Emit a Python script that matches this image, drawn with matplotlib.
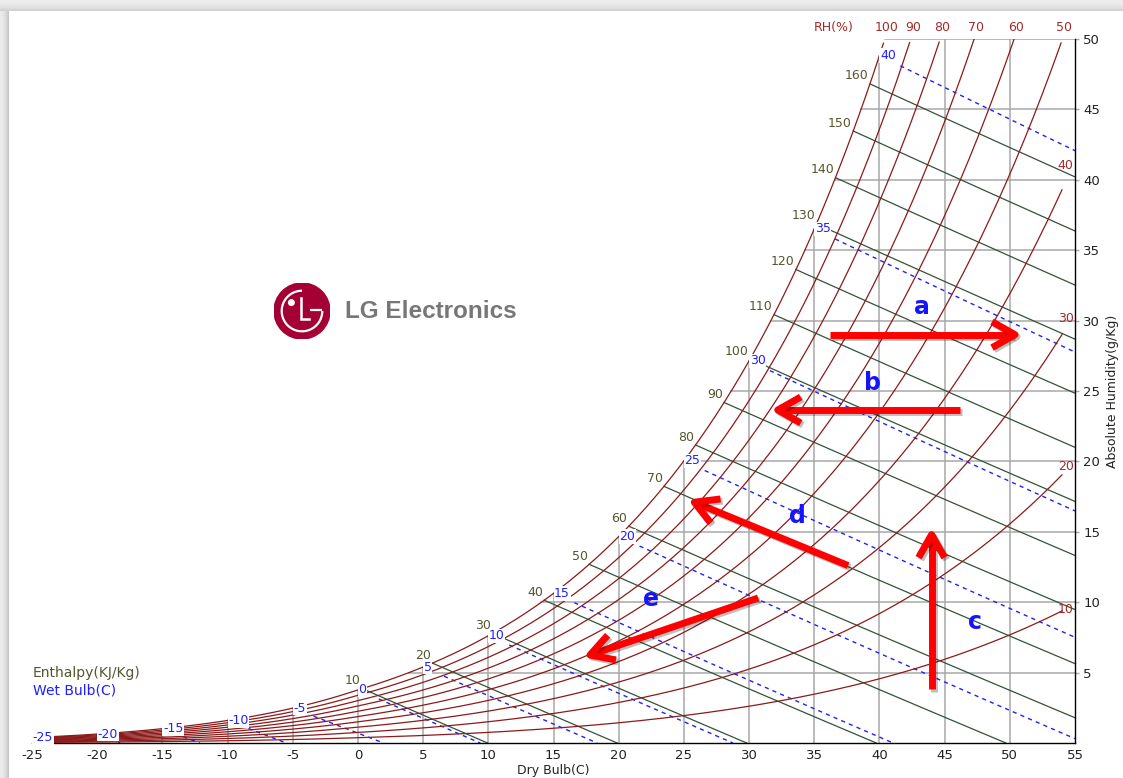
import numpy as np
import matplotlib
matplotlib.use("Agg")
import matplotlib.pyplot as plt
from matplotlib.patches import Circle, Arc
import matplotlib.patheffects as pe

P_ATM = 101.325  # kPa

# ---- chart data -------------------------------------------------------
dry_bulb_ticks = [-25, -20, -15, -10, -5, 0, 5, 10, 15, 20, 25, 30, 35, 40, 45, 50, 55]
humidity_ticks = [5, 10, 15, 20, 25, 30, 35, 40, 45, 50]
rh_levels = [10, 20, 30, 40, 50, 60, 70, 80, 90, 100]
rh_top_labels = [100, 90, 80, 70, 60, 50]
rh_side_labels = [40, 30, 20, 10]
enthalpy_levels = [10, 20, 30, 40, 50, 60, 70, 80, 90, 100, 110, 120, 130, 140, 150, 160]
wet_bulb_levels = [-25, -20, -15, -10, -5, 0, 5, 10, 15, 20, 25, 30, 35, 40]

# air-handling processes (dry bulb C, humidity g/kg)
process_names = ["a", "b", "c", "d", "e"]
process_start_t = [36.2, 46.2, 44.0, 37.6, 30.7]
process_start_w = [29.0, 23.65, 3.8, 12.6, 10.3]
process_end_t = [50.4, 32.2, 44.0, 25.8, 17.8]
process_end_w = [29.0, 23.65, 14.8, 17.1, 6.25]
process_label_t = [43.25, 39.5, 47.3, 33.7, 22.5]
process_label_w = [31.0, 25.6, 8.6, 16.1, 10.2]

T_MIN, T_MAX = -25, 55
W_MAX = 50

RH_COLOR = "#8b1a1a"
RH_TEXT = "#a52a2a"
H_COLOR = "#34523a"
H_TEXT = "#55552f"
WB_COLOR = "#1f1fff"
GRID_COLOR = "#a8a8a8"


# ---- psychrometric relations -----------------------------------------
def p_ws(t):
    t = np.asarray(t, dtype=float)
    water = 0.61094 * np.exp(17.625 * t / (t + 243.04))
    ice = 0.61115 * np.exp(22.452 * t / (272.55 + t))
    return np.where(t >= 0, water, ice)


def humidity(t, rh):
    pw = rh / 100.0 * p_ws(t)
    return 622.0 * pw / (P_ATM - pw)


def bisect(f, lo, hi, n=80):
    flo = f(lo)
    for _ in range(n):
        mid = 0.5 * (lo + hi)
        fm = f(mid)
        if (fm > 0) == (flo > 0):
            lo, flo = mid, fm
        else:
            hi = mid
    return 0.5 * (lo + hi)


def t_sat_for_w(w):
    return bisect(lambda t: float(humidity(t, 100)) - w, -40, 80)


def h_sat(t):
    ws = float(humidity(t, 100)) / 1000.0
    return 1.006 * t + ws * (2501 + 1.86 * t)


def enthalpy_w(t, h):
    return 1000.0 * (h - 1.006 * t) / (2501 + 1.86 * t)


def wet_bulb_w(t, twb):
    ws = float(humidity(twb, 100)) / 1000.0
    if twb >= 0:
        num = (2501 - 2.326 * twb) * ws - 1.006 * (t - twb)
        den = 2501 + 1.86 * t - 4.186 * twb
    else:
        num = (2830 - 0.24 * twb) * ws - 1.006 * (t - twb)
        den = 2830 + 1.86 * t - 2.1 * twb
    return 1000.0 * num / den


# ---- figure -----------------------------------------------------------
W_PX, H_PX = 1123, 778
fig = plt.figure(figsize=(W_PX / 100, H_PX / 100), dpi=100)

# window frame: soft grey edge along the top and the left
bg = np.ones((H_PX, W_PX, 3))
for r in range(11):
    v = 0.93 - 0.11 * (r / 10.0) ** 2
    bg[r, :, :] = v
for c in range(9):
    v = 0.92 - 0.14 * (c / 8.0) ** 2
    bg[11:, c, :] = np.minimum(bg[11:, c, :], v)
bg_ax = fig.add_axes([0, 0, 1, 1], zorder=-10)
bg_ax.imshow(bg, aspect="auto", extent=[0, 1, 0, 1])
bg_ax.axis("off")

ax = fig.add_axes([32 / W_PX, 35 / H_PX, 1043 / W_PX, 704 / H_PX])
ax.set_xlim(T_MIN, T_MAX)
ax.set_ylim(0, W_MAX)
ax.patch.set_alpha(0)
for s in ("left", "top"):
    ax.spines[s].set_visible(False)
ax.spines["right"].set_color("black")
ax.spines["bottom"].set_color("black")
ax.spines["right"].set_linewidth(1.0)
ax.spines["bottom"].set_linewidth(1.0)

ax.yaxis.tick_right()
ax.yaxis.set_label_position("right")
ax.set_xticks(dry_bulb_ticks)
ax.set_xticklabels([str(v) for v in dry_bulb_ticks])
ax.set_yticks(humidity_ticks)
ax.set_yticklabels([str(v) for v in humidity_ticks])
ax.tick_params(axis="x", length=0, pad=4, labelsize=9.5, colors="#222222")
ax.tick_params(axis="y", length=3, width=1, color=GRID_COLOR, pad=3, labelsize=9.5,
               labelcolor="#222222")
ax.set_xlabel("Dry Bulb(C)", fontsize=9, labelpad=2, color="#222222")
ax.set_ylabel("Absolute Humidity(g/Kg)", fontsize=9, labelpad=4, color="#222222")

# grid clipped to the region under the saturation curve
for t in dry_bulb_ticks[1:-1]:
    top = min(W_MAX, float(humidity(t, 100)))
    ax.plot([t, t], [0, top], color=GRID_COLOR, lw=1.1, zorder=1)
for w in humidity_ticks:
    ax.plot([t_sat_for_w(w), T_MAX], [w, w], color=GRID_COLOR, lw=1.1, zorder=1)

# relative humidity curves
for rh in rh_levels:
    t_end = T_MAX if rh >= 50 else 54.0
    t = np.linspace(T_MIN, t_end, 600)
    w = humidity(t, rh)
    keep = w <= W_MAX
    ax.plot(t[keep], w[keep], color=RH_COLOR, lw=0.9, zorder=3)

for rh in rh_top_labels:
    t_top = bisect(lambda t: float(humidity(t, rh)) - W_MAX, 0, 80)
    ax.text(t_top + 0.15, 50.85, str(rh), color=RH_TEXT, fontsize=9,
            ha="center", va="center", clip_on=False)
ax.text(36.5, 50.85, "RH(%)", color=RH_TEXT, fontsize=9, ha="center", va="center",
        clip_on=False)
for rh in rh_side_labels:
    ax.text(54.9, float(humidity(55, rh)) - 0.35, str(rh), color=RH_TEXT, fontsize=9,
            ha="right", va="center", zorder=6)

# enthalpy lines
for h in enthalpy_levels:
    t0 = bisect(lambda t: h_sat(t) - h, -30, 60)
    t1 = min(T_MAX, bisect(lambda t: enthalpy_w(t, h), -30, 200))
    t = np.linspace(t0, t1, 200)
    ax.plot(t, enthalpy_w(t, h), color=H_COLOR, lw=0.9, zorder=2)
    ax.text(t0 - 0.1, enthalpy_w(t0, h) + 0.1, str(h), color=H_TEXT, fontsize=9,
            ha="right", va="bottom", zorder=6)

# wet bulb lines
for twb in wet_bulb_levels:
    t_zero = bisect(lambda t: wet_bulb_w(t, twb), twb, twb + 200)
    t0 = twb + 1.6
    t1 = min(T_MAX, t_zero)
    if t1 > t0:
        t = np.linspace(t0, t1, 200)
        ax.plot(t, [wet_bulb_w(x, twb) for x in t], color=WB_COLOR, lw=1.0,
                ls=(0, (3, 3)), zorder=2)
    ax.text(twb + 0.05, float(humidity(twb, 100)), str(twb), color=WB_COLOR,
            fontsize=9, ha="left", va="center", zorder=7,
            bbox=dict(boxstyle="square,pad=0.05", fc="white", ec="none"))

# legend notes
fig.text(33 / W_PX, 1 - 673 / H_PX, "Enthalpy(KJ/Kg)", color=H_TEXT, fontsize=10,
         ha="left", va="center")
fig.text(33 / W_PX, 1 - 690 / H_PX, "Wet Bulb(C)", color=WB_COLOR, fontsize=10,
         ha="left", va="center")


# process arrows: thick shaft with an open chevron head
def draw_process(start, end, head_len=23, head_half=13, lw=5.0):
    trans = ax.transData
    p0 = trans.transform(start)
    p1 = trans.transform(end)
    d = (p1 - p0) / np.hypot(*(p1 - p0))
    n = np.array([-d[1], d[0]])
    base = p1 - head_len * d
    head_px = np.array([base + head_half * n, p1, base - head_half * n])
    head = trans.inverted().transform(head_px)
    tip_back = trans.inverted().transform(p1 - 2 * d)
    fx = [pe.SimpleLineShadow(offset=(1.5, -1.5), alpha=0.25, shadow_color="black"),
          pe.Normal()]
    ax.plot([start[0], tip_back[0]], [start[1], tip_back[1]], color="#ff0000", lw=lw,
            solid_capstyle="butt", zorder=8, path_effects=fx)
    ax.plot(head[:, 0], head[:, 1], color="#ff0000", lw=lw, solid_capstyle="butt",
            solid_joinstyle="round", zorder=8, path_effects=fx)


for name, ts, ws, te, we, tl, wl in zip(process_names, process_start_t, process_start_w,
                                        process_end_t, process_end_w,
                                        process_label_t, process_label_w):
    draw_process((ts, ws), (te, we))
    ax.text(tl, wl, name, color="#1414ff", fontsize=17, fontweight="bold",
            ha="center", va="center", zorder=9)

# company logo
logo = fig.add_axes([274 / W_PX, 1 - 339 / H_PX, 56 / W_PX, 56 / H_PX])
logo.set_xlim(-1, 1)
logo.set_ylim(-1, 1)
logo.set_aspect("equal")
logo.axis("off")
logo.add_patch(Circle((0, 0), 1.0, color="#a50034"))
logo.add_patch(Arc((0, 0), 1.45, 1.45, theta1=90, theta2=360, color="white", lw=1.6))
logo.plot([0.3, 0.73], [0.02, 0.02], color="white", lw=1.6, solid_capstyle="butt")
logo.plot([-0.05, -0.05, 0.25], [0.45, -0.3, -0.3], color="white", lw=1.8,
          solid_joinstyle="miter")
logo.add_patch(Circle((-0.38, 0.3), 0.1, color="white"))
fig.text(345 / W_PX, 1 - 311 / H_PX, "LG Electronics", color="#777777",
         fontsize=17.5, fontweight="bold", family="Liberation Sans",
         ha="left", va="center")

fig.savefig("out.png", dpi=100)
